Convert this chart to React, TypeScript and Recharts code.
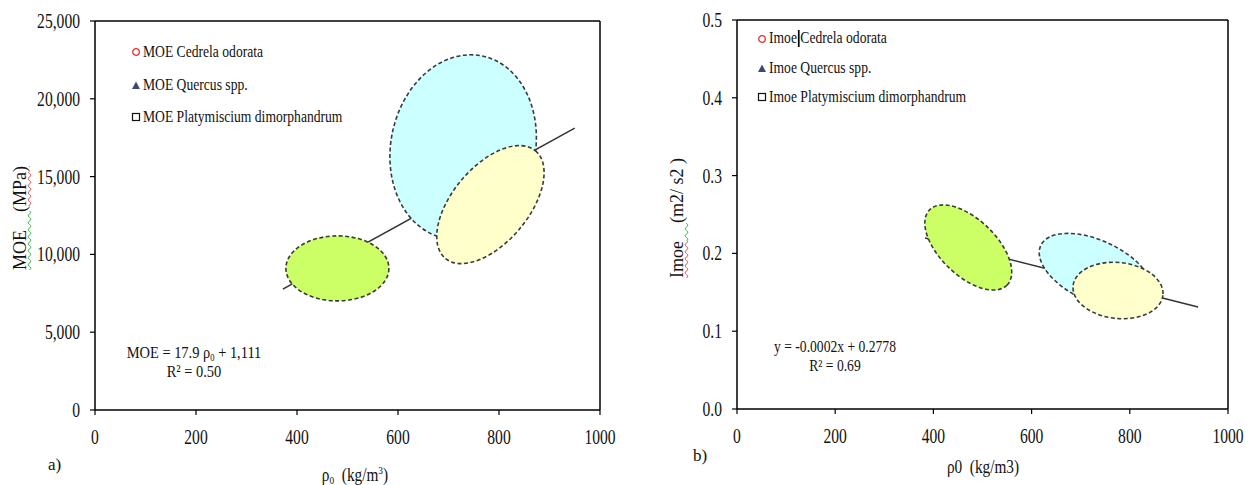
import React from 'react';
import { ComposedChart, Scatter, XAxis, YAxis, ReferenceArea, ReferenceLine } from 'recharts';

const FONT = '"Liberation Serif", "Times New Roman", serif';

// shared density axis (kg/m3)
const densityTicks = [0, 200, 400, 600, 800, 1000];

// panel a: MOE (MPa)
const moeTicks = [0, 5000, 10000, 15000, 20000, 25000];
const moeLegend = ['MOE Cedrela odorata', 'MOE Quercus spp.', 'MOE Platymiscium dimorphandrum'];
// species clouds: centre and half-range in data units
const moeClouds = [
  { species: 'Cedrela', cx: 480, cy: 9100, rx: 102, ry: 2090 },
  { species: 'Quercus', cx: 729, cy: 16900, rx: 143, ry: 5980 },
  { species: 'Platymiscium', cx: 783, cy: 13200, rx: 139, ry: 2440 },
];
const moeFit = [
  { x: 372, y: 7770 },
  { x: 950, y: 18116 },
];

// panel b: Imoe (m2/s2)
const imoeTicks = [0, 0.1, 0.2, 0.3, 0.4, 0.5];
const imoeLegend = ['Imoe Cedrela odorata', 'Imoe Quercus spp.', 'Imoe Platymiscium dimorphandrum'];
const imoeClouds = [
  { species: 'Cedrela', cx: 471, cy: 0.2076, rx: 110, ry: 0.036 },
  { species: 'Quercus', cx: 731, cy: 0.177, rx: 124, ry: 0.0395 },
  { species: 'Platymiscium', cx: 776, cy: 0.1523, rx: 92, ry: 0.036 },
];
const imoeFit = [
  { x: 383, y: 0.2198 },
  { x: 939, y: 0.131 },
];

const cloudFills = ['#ccff66', '#ccffff', '#ffffcc'];
const moeAngles = [0, 12, -50];
const imoeAngles = [44, 25, 6];

const fmtThousands = (v: number) => v.toLocaleString('en-US');
const fmtOne = (v: number) => v.toFixed(1);

const XTick = (props: any) => {
  const { x, y, payload } = props;
  return (
    <text
      transform={`translate(${x} ${y + 25}) scale(0.78 1)`}
      textAnchor="middle"
      fontFamily={FONT}
      fontSize={20}
      fill="#111"
    >
      {payload.value}
    </text>
  );
};

const makeYTick = (fmt: (v: number) => string) => (props: any) => {
  const { x, y, payload } = props;
  return (
    <text
      transform={`translate(${x} ${y + 7}) scale(0.78 1)`}
      textAnchor="end"
      fontFamily={FONT}
      fontSize={20}
      fill="#111"
    >
      {fmt(payload.value)}
    </text>
  );
};

const cloudShape = (fill: string, angle: number) => (p: any) => {
  const { x, y, width, height } = p;
  const cx = x + width / 2;
  const cy = y + height / 2;
  return (
    <ellipse
      cx={cx}
      cy={cy}
      rx={Math.abs(width) / 2}
      ry={Math.abs(height) / 2}
      transform={`rotate(${angle} ${cx} ${cy})`}
      fill={fill}
      stroke="#3a3a3a"
      strokeWidth={1.6}
      strokeDasharray="4 2.5"
    />
  );
};

const noDot = () => <g />;

const Marker = ({ i }: { i: number }) => {
  if (i === 0)
    return (
      <svg width={10} height={10} style={{ marginRight: 2 }}>
        <circle cx={5} cy={5} r={3.3} fill="none" stroke="#e83030" strokeWidth={1.3} />
      </svg>
    );
  if (i === 1)
    return (
      <svg width={10} height={10} style={{ marginRight: 2 }}>
        <polygon points="1,9 5,1.5 9,9" fill="#3b4c6e" />
      </svg>
    );
  return (
    <svg width={10} height={10} style={{ marginRight: 2 }}>
      <rect x={1.5} y={1.5} width={7} height={7} fill="none" stroke="#111" strokeWidth={1.2} />
    </svg>
  );
};

const squish = (origin: string): React.CSSProperties => ({
  display: 'inline-block',
  transform: 'scaleX(0.85)',
  transformOrigin: origin,
  whiteSpace: 'nowrap',
});

const abs = (left: number, top: number): React.CSSProperties => ({
  position: 'absolute',
  left,
  top,
  fontFamily: FONT,
  color: '#111',
  lineHeight: 1,
});

function LegendBlock({ left, top, gap, labels, cursor }: { left: number; top: number; gap: number; labels: string[]; cursor?: boolean }) {
  return (
    <>
      {labels.map((label, i) => {
        const [first, ...rest] = label.split(' ');
        return (
          <div key={label} style={{ ...abs(left, top + i * gap), display: 'flex', alignItems: 'center', fontSize: 16 }}>
            <Marker i={i} />
            <span style={squish('left center')}>
              {cursor && i === 0 ? (
                <>
                  {first}
                  <span style={{ display: 'inline-block', width: 2, height: 17, background: '#000', verticalAlign: -4, margin: '0 1px' }} />
                  {rest.join(' ')}
                </>
              ) : (
                label
              )}
            </span>
          </div>
        );
      })}
    </>
  );
}

function Panel(props: {
  left: number;
  width: number;
  yWidth: number;
  margin: { top: number; right: number; bottom: number; left: number };
  yTicks: number[];
  yFmt: (v: number) => string;
  clouds: { species: string; cx: number; cy: number; rx: number; ry: number }[];
  angles: number[];
  fit: { x: number; y: number }[];
}) {
  const { yTicks } = props;
  const yMax = yTicks[yTicks.length - 1];
  // keep the clouds above the fitted line
  const areaProps: any = { zIndex: 700 };
  return (
    <div style={{ position: 'absolute', left: props.left, top: 0 }}>
      <ComposedChart width={props.width} height={485} margin={props.margin}>
        <XAxis
          type="number"
          dataKey="x"
          domain={[0, 1000]}
          ticks={densityTicks}
          interval={0}
          allowDataOverflow
          height={30}
          tickSize={5}
          tickMargin={4}
          axisLine={{ stroke: '#000', strokeWidth: 1.5 }}
          tickLine={{ stroke: '#000', strokeWidth: 1.2 }}
          tick={<XTick />}
        />
        <YAxis
          type="number"
          dataKey="y"
          domain={[0, yMax]}
          ticks={yTicks}
          interval={0}
          allowDataOverflow
          width={props.yWidth}
          tickSize={5}
          tickMargin={10}
          axisLine={{ stroke: '#000', strokeWidth: 1.5 }}
          tickLine={{ stroke: '#000', strokeWidth: 1.2 }}
          tick={makeYTick(props.yFmt)}
        />
        <ReferenceLine y={yMax} stroke="#000" strokeWidth={1.5} />
        <ReferenceLine x={1000} stroke="#000" strokeWidth={1.5} />
        <Scatter
          data={props.fit}
          line={{ stroke: '#333', strokeWidth: 1.5 }}
          shape={noDot}
          isAnimationActive={false}
        />
        {props.clouds.map((c, i) => (
          <ReferenceArea
            key={c.species}
            x1={c.cx - c.rx}
            x2={c.cx + c.rx}
            y1={c.cy - c.ry}
            y2={c.cy + c.ry}
            ifOverflow="visible"
            {...areaProps}
            shape={cloudShape(cloudFills[i], props.angles[i])}
          />
        ))}
      </ComposedChart>
    </div>
  );
}

const wavy = (color: string): React.CSSProperties => ({
  textDecorationLine: 'underline',
  textDecorationStyle: 'wavy',
  textDecorationColor: color,
  textDecorationThickness: 1,
});

const lowered = (dy: number, size: number): React.CSSProperties => ({
  position: 'relative',
  top: dy,
  fontSize: size,
});

export default function App() {
  return (
    <div style={{ position: 'absolute', left: 0, top: 0, width: 1252, height: 485, background: '#fff', overflow: 'hidden' }}>
      <Panel
        left={0}
        width={620}
        yWidth={95}
        margin={{ top: 21, right: 20, bottom: 45, left: 0 }}
        yTicks={moeTicks}
        yFmt={fmtThousands}
        clouds={moeClouds}
        angles={moeAngles}
        fit={moeFit}
      />
      <Panel
        left={640}
        width={612}
        yWidth={97}
        margin={{ top: 20, right: 24, bottom: 46, left: 0 }}
        yTicks={imoeTicks}
        yFmt={fmtOne}
        clouds={imoeClouds}
        angles={imoeAngles}
        fit={imoeFit}
      />

      <LegendBlock left={131} top={44} gap={32.5} labels={moeLegend} />
      <LegendBlock left={757} top={30} gap={29.5} labels={imoeLegend} cursor />

      {/* regression equations */}
      <div style={{ ...abs(194, 344), fontSize: 17, transform: 'translateX(-50%) scaleX(0.85)', textAlign: 'center', whiteSpace: 'nowrap' }}>
        MOE = 17.9 ρ<span style={lowered(3, 10)}>0</span> + 1,111
        <div style={{ marginTop: 2 }}>R² = 0.50</div>
      </div>
      <div style={{ ...abs(835, 339), fontSize: 16, transform: 'translateX(-50%) scaleX(0.85)', textAlign: 'center', whiteSpace: 'nowrap' }}>
        y = -0.0002x + 0.2778
        <div style={{ marginTop: 3 }}>R² = 0.69</div>
      </div>

      {/* axis titles */}
      <div style={{ ...abs(355, 466), fontSize: 18, transform: 'translateX(-50%) scaleX(0.85)', whiteSpace: 'nowrap' }}>
        ρ<span style={lowered(3, 11)}>0</span>&nbsp;&nbsp;(kg/m<span style={lowered(-7, 11)}>3</span>)
      </div>
      <div style={{ ...abs(983, 458), fontSize: 18, transform: 'translateX(-50%) scaleX(0.85)', whiteSpace: 'nowrap' }}>
        ρ0&nbsp;&nbsp;(kg/m3)
      </div>
      <div style={{ ...abs(20, 218), fontSize: 18, transform: 'translate(-50%, -50%) rotate(-90deg)', whiteSpace: 'nowrap' }}>
        <span style={wavy('#3cb043')}>MOE&nbsp;&nbsp;&nbsp;&nbsp;</span>
        <span style={wavy('#e84a4a')}>(MPa)</span>
      </div>
      <div style={{ ...abs(677, 218), fontSize: 18, transform: 'translate(-50%, -50%) rotate(-90deg)', whiteSpace: 'nowrap' }}>
        <span style={wavy('#e84a4a')}>Imoe</span>
        <span style={wavy('#3cb043')}>&nbsp;&nbsp;&nbsp;&nbsp;</span>
        <span>(m2/ s2 )</span>
      </div>

      {/* panel tags */}
      <div style={{ ...abs(48, 456), fontSize: 17 }}>a)</div>
      <div style={{ ...abs(693, 447), fontSize: 17 }}>b)</div>
    </div>
  );
}
